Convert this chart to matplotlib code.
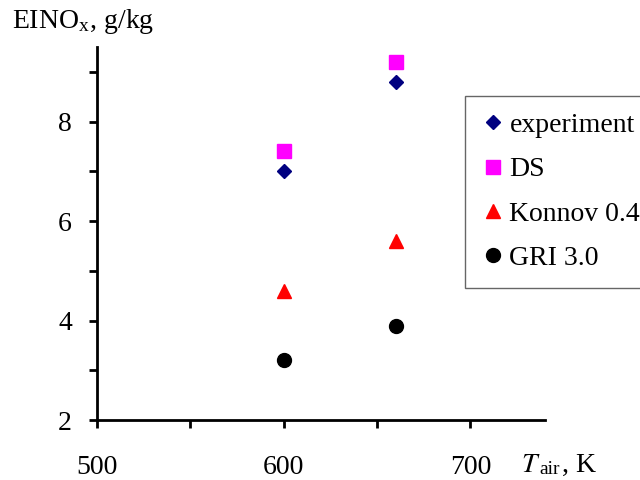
import matplotlib
matplotlib.use("Agg")
import matplotlib.pyplot as plt
from matplotlib.ticker import MultipleLocator

plt.rcParams['font.family'] = ['Liberation Serif', 'DejaVu Serif']
plt.rcParams['mathtext.fontset'] = 'stix'

t_air = [600, 660]
experiment = [7.0, 8.8]
ds = [7.4, 9.2]
konnov = [4.6, 5.6]
gri = [3.2, 3.9]

FS = 20

fig = plt.figure(figsize=(6.4, 4.8), dpi=100)
ax = fig.add_axes([97/640, 60/480, 448/640, 373/480])

ax.plot(t_air, experiment, ls='none', marker='D', ms=7, color='#000080', label='experiment')
ax.plot(t_air, ds, ls='none', marker='s', ms=10, color='#FF00FF', label='DS')
ax.plot(t_air, konnov, ls='none', marker='^', ms=10.5, color='#FF0000', label='Konnov 0.4')
ax.plot(t_air, gri, ls='none', marker='o', ms=10, color='black', label='GRI 3.0')

ax.set_xlim(500, 740)
ax.set_ylim(2, 9.5)
ax.spines['top'].set_visible(False)
ax.spines['right'].set_visible(False)
for s in ('left', 'bottom'):
    ax.spines[s].set_linewidth(2)

ax.xaxis.set_major_locator(MultipleLocator(100))
ax.xaxis.set_minor_locator(MultipleLocator(50))
ax.yaxis.set_major_locator(MultipleLocator(2))
ax.yaxis.set_minor_locator(MultipleLocator(1))
ax.tick_params(which='both', direction='out', width=2, length=6, labelsize=FS)
ax.tick_params(axis='x', which='major', pad=19)
ax.tick_params(axis='y', which='major', pad=12)

# x label sits to the right of the tick labels
fig.text(521/640, 1 - 465/480, r'$T$', fontsize=FS, va='center', ha='left')
fig.text(539/640, 1 - 469/480, 'air', fontsize=14, va='center', ha='left')
fig.text(562/640, 1 - 465/480, ', K', fontsize=FS, va='center', ha='left')

fig.text(12/640, 1 - 22/480, 'EINO$_\\mathregular{x}$, g/kg', fontsize=FS, va='center', ha='left')

leg = ax.legend(loc='upper left', bbox_to_anchor=(465/640, 1 - 96/480),
                bbox_transform=fig.transFigure, fontsize=FS, frameon=True,
                fancybox=False, edgecolor='#404040', handlelength=0.8,
                handletextpad=0.2, labelspacing=0.68, borderpad=0.6,
                borderaxespad=0, numpoints=1)
leg.get_frame().set_linewidth(1)

fig.savefig('out.png', dpi=100)
